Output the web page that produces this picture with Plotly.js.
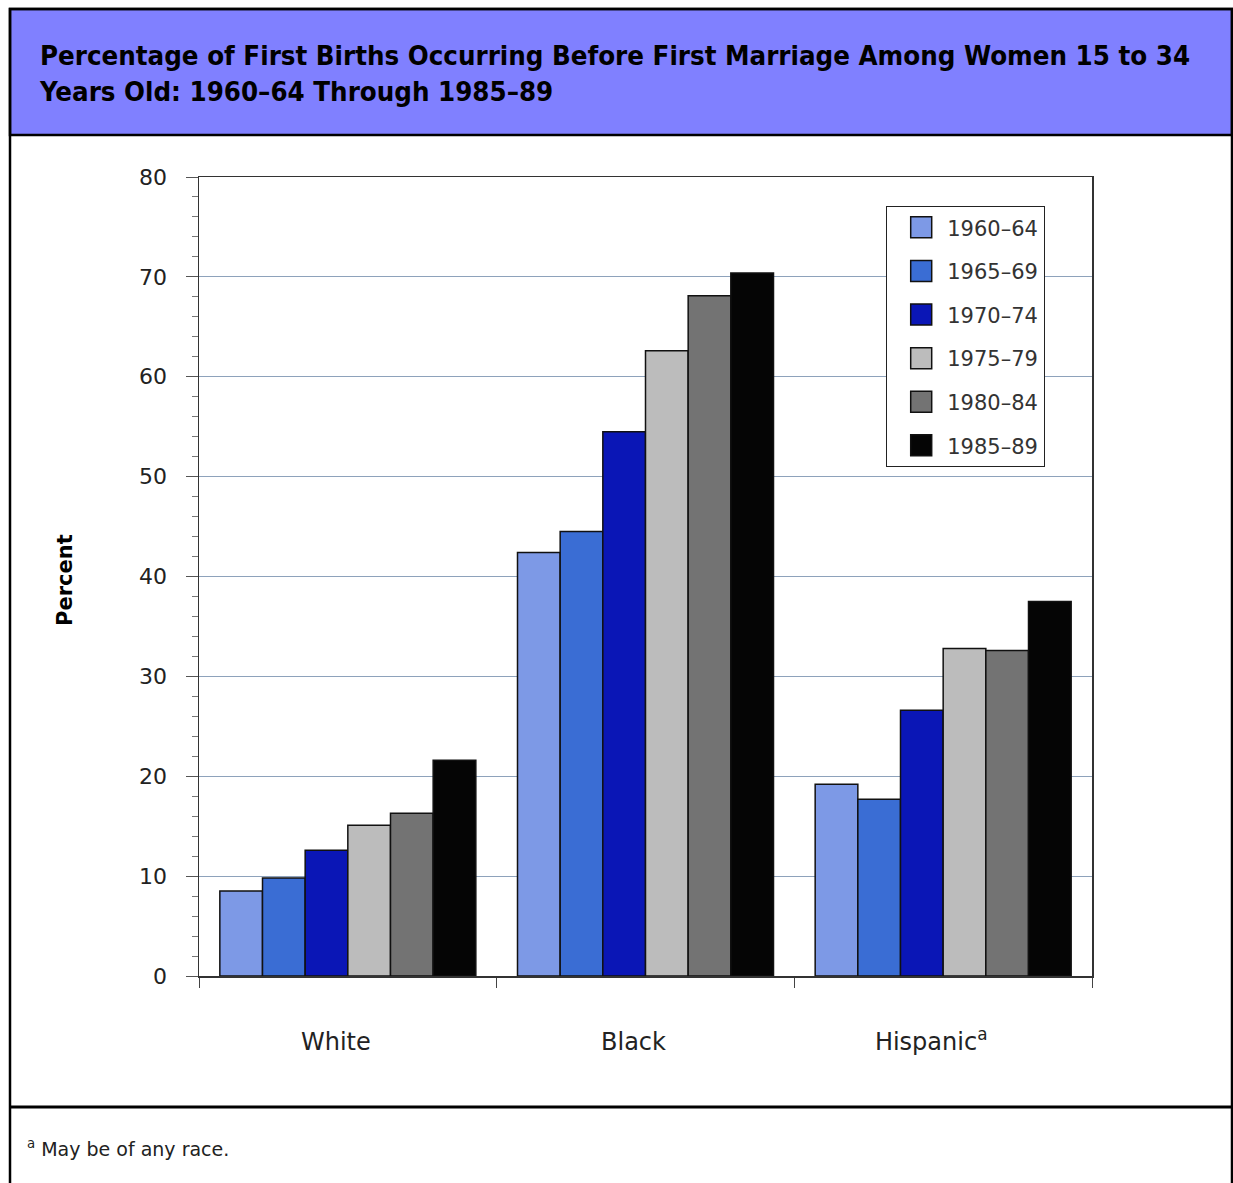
<!DOCTYPE html>
<html>
<head>
<meta charset="utf-8">
<script src="https://cdn.plot.ly/plotly-3.0.1.min.js"></script>
<style>
  html, body { margin: 0; padding: 0; background: #ffffff; }
  #chart { width: 1233px; height: 1183px; }
</style>
</head>
<body>
<div id="chart"></div>
<script>
// ---- Data ----
const categories = ['White', 'Black', 'Hispanic<sup>a</sup>'];
const periods = ['1960–64', '1965–69', '1970–74', '1975–79', '1980–84', '1985–89'];
const values1960_64 = [8.5, 42.4, 19.2];
const values1965_69 = [9.8, 44.5, 17.7];
const values1970_74 = [12.6, 54.5, 26.6];
const values1975_79 = [15.1, 62.6, 32.8];
const values1980_84 = [16.3, 68.1, 32.6];
const values1985_89 = [21.6, 70.4, 37.5];
const yTickValues = [0, 10, 20, 30, 40, 50, 60, 70, 80];

// ---- Styling ----
const seriesValues = [values1960_64, values1965_69, values1970_74, values1975_79, values1980_84, values1985_89];
const barColors = ['#7d99e6', '#3a6dd4', '#0a16b6', '#bcbcbc', '#737373', '#050505'];

const W = 1233, H = 1183;
const M = { l: 199, r: 1233 - 1092, t: 177, b: 1183 - 976 };
const plotW = W - M.l - M.r, plotH = H - M.t - M.b;
const px = v => (v - M.l) / plotW;          // pixel x -> paper x
const py = v => (H - M.b - v) / plotH;      // pixel y -> paper y

const traces = periods.map((p, i) => ({
  type: 'bar',
  name: p,
  x: categories,
  y: seriesValues[i],
  legendgroup: 'g' + i,
  marker: { color: barColors[i], line: { color: '#111111', width: 1.5 } },
  hoverinfo: 'x+y+name'
}));

const layout = {
  width: W, height: H,
  margin: M,
  paper_bgcolor: '#ffffff',
  plot_bgcolor: '#ffffff',
  barmode: 'group',
  bargap: 0.14,
  bargroupgap: 0,
  font: { family: 'DejaVu Sans, sans-serif', color: '#222222' },
  title: {
    text: 'Percentage of First Births Occurring Before First Marriage Among Women 15 to 34<br>Years Old: 1960–64 Through 1985–89',
    font: { family: 'DejaVu Sans Condensed, DejaVu Sans, sans-serif', size: 27.4, weight: 'bold', color: '#000000' },
    xref: 'container', yref: 'container',
    x: 40 / W, xanchor: 'left',
    y: 1 - 65 / H, yanchor: 'top'
  },
  xaxis: {
    type: 'category',
    tickson: 'boundaries',
    ticks: 'outside', ticklen: 10, tickwidth: 1, tickcolor: '#444444',
    showline: true, linecolor: '#333333', linewidth: 1.5, mirror: true,
    showgrid: false,
    tickfont: { size: 24, color: '#222222' },
    ticklabelstandoff: 44,
    ticklabelshift: -12
  },
  yaxis: {
    range: [0, 80],
    tickvals: yTickValues,
    ticktext: yTickValues.map(String),
    ticks: 'outside', ticklen: 12, tickwidth: 1, tickcolor: '#555555',
    minor: { dtick: 2, ticks: 'outside', ticklen: 6, tickcolor: '#777777', showgrid: false },
    showline: true, linecolor: '#333333', linewidth: 1.5, mirror: true,
    showgrid: true, gridcolor: '#8ea2bb', gridwidth: 1,
    zeroline: false,
    tickfont: { size: 22, color: '#222222' },
    ticklabelstandoff: 14
  },
  showlegend: true,
  legend: {
    x: px(886), xanchor: 'left',
    y: py(206), yanchor: 'top',
    bgcolor: '#ffffff', bordercolor: '#222222', borderwidth: 1.2,
    font: { size: 21, color: '#333333' },
    tracegroupgap: 13.3,
    traceorder: 'grouped',
    itemwidth: 50,
    entrywidth: 160
  },
  shapes: [
    // title band
    { type: 'rect', xref: 'paper', yref: 'paper', x0: px(10), x1: px(1232), y0: py(9), y1: py(135),
      fillcolor: '#8080ff', line: { color: '#000000', width: 2.5 }, layer: 'below' },
    // outer frame
    { type: 'rect', xref: 'paper', yref: 'paper', x0: px(10), x1: px(1232), y0: py(9), y1: py(1195),
      fillcolor: 'rgba(0,0,0,0)', line: { color: '#000000', width: 2.5 }, layer: 'above' },
    // footer separator
    { type: 'line', xref: 'paper', yref: 'paper', x0: px(10), x1: px(1232), y0: py(1107), y1: py(1107),
      line: { color: '#000000', width: 3 }, layer: 'above' }
  ],
  annotations: [
    { text: '<b>Percent</b>', xref: 'paper', yref: 'paper', x: px(65), y: py(580),
      textangle: -90, showarrow: false, xanchor: 'center', yanchor: 'middle',
      font: { size: 21, color: '#000000', family: 'DejaVu Sans, sans-serif' } },
    { text: '<sup>a</sup> May be of any race.', xref: 'paper', yref: 'paper', x: px(25), y: py(1148),
      showarrow: false, xanchor: 'left', yanchor: 'middle',
      font: { size: 19, color: '#222222', family: 'DejaVu Sans, sans-serif' } }
  ]
};

Plotly.newPlot('chart', traces, layout, { staticPlot: true, displayModeBar: false }).then(() => {
  // enlarge legend swatches to match the reference's bigger squares
  document.querySelectorAll('.legend .legendpoints path').forEach(p => {
    const old = p.getAttribute('transform') || '';
    p.setAttribute('transform', old + ' translate(4,0) scale(1.75)');
    p.setAttribute('vector-effect', 'non-scaling-stroke');
  });
});
</script>
</body>
</html>
